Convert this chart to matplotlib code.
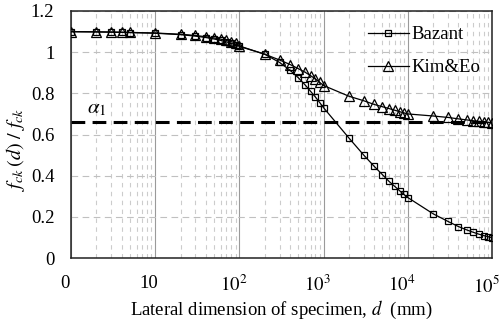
import numpy as np
import matplotlib
matplotlib.use("Agg")
import matplotlib.pyplot as plt
import matplotlib.transforms as mtransforms
from matplotlib.ticker import FixedLocator, LogLocator, NullFormatter

plt.rcParams['font.family'] = ['Liberation Serif', 'DejaVu Serif']
plt.rcParams['mathtext.fontset'] = 'stix'

# lateral dimension d (mm)
d_mm = [1, 2, 3, 4, 5,
        10, 20, 30, 40, 50, 60, 70, 80, 90,
        100, 200, 300, 400, 500, 600, 700, 800, 900,
        1000, 2000, 3000, 4000, 5000, 6000, 7000, 8000, 9000,
        10000, 20000, 30000, 40000, 50000, 60000, 70000, 80000, 90000,
        100000]

bazant = [1.099, 1.098, 1.097, 1.096, 1.095,
          1.092, 1.085, 1.078, 1.071, 1.064, 1.057, 1.050, 1.043, 1.036,
          1.028, 0.990, 0.950, 0.912, 0.876, 0.842, 0.810, 0.782, 0.755,
          0.730, 0.583, 0.500, 0.445, 0.405, 0.372, 0.348, 0.327, 0.309,
          0.294, 0.215, 0.178, 0.153, 0.137, 0.125, 0.116, 0.109, 0.104,
          0.099]

kim_eo = [1.100, 1.099, 1.098, 1.097, 1.096,
          1.093, 1.087, 1.081, 1.075, 1.069, 1.063, 1.057, 1.051, 1.045,
          1.030, 0.990, 0.962, 0.940, 0.920, 0.903, 0.886, 0.870, 0.853,
          0.838, 0.786, 0.764, 0.746, 0.735, 0.726, 0.718, 0.711, 0.705,
          0.700, 0.690, 0.683, 0.676, 0.671, 0.667, 0.664, 0.661, 0.659,
          0.657]

alpha_1 = 0.663

xtick_pos = [1, 10, 100, 1000, 10000, 100000]
xtick_labels = ['0', '10', r'$10^{2}$', r'$10^{3}$', r'$10^{4}$', r'$10^{5}$']
ytick_pos = [0, 0.2, 0.4, 0.6, 0.8, 1.0, 1.2]
ytick_labels = ['0', '0.2', '0.4', '0.6', '0.8', '1', '1.2']

fig = plt.figure(figsize=(5.0, 3.23), dpi=100)
ax = fig.add_axes([0.142, 0.201, 0.842, 0.765])

ax.set_xscale('log')
ax.set_xlim(1, 1e5)
ax.set_ylim(0, 1.2)

# grid: solid decades, dashed minor verticals, dashed horizontals
ax.xaxis.set_major_locator(FixedLocator(xtick_pos))
ax.xaxis.set_minor_locator(LogLocator(base=10, subs=np.arange(2, 10)))
ax.xaxis.set_minor_formatter(NullFormatter())
ax.grid(True, which='major', axis='x', color='#9a9a9a', lw=0.8, ls='-')
ax.grid(True, which='minor', axis='x', color='#cccccc', lw=0.8, ls=(0, (4, 4)))
ax.grid(True, which='major', axis='y', color='#c0c0c0', lw=0.8, ls=(0, (6, 4)))
ax.set_axisbelow(True)

ax.axhline(alpha_1, color='black', lw=2.2, ls=(0, (4.5, 2.4)), zorder=2)
ax.text(1.55, 0.725, r'$\alpha_{\mathit{1}}$', fontsize=15, va='center', ha='left')

ax.plot(d_mm, bazant, color='black', lw=0.9, marker='s', ms=5,
        mfc='none', mec='black', mew=0.9, label='Bazant', zorder=3)
ax.plot(d_mm, kim_eo, color='black', lw=0.9, marker='^', ms=7.5,
        mfc='none', mec='black', mew=0.9, label='Kim&Eo', zorder=3)

ax.set_xticks(xtick_pos)
ax.set_xticklabels(xtick_labels)
ax.set_yticks(ytick_pos)
ax.set_yticklabels(ytick_labels)
ax.tick_params(axis='both', which='both', length=0, labelsize=13.5)
ax.tick_params(axis='y', pad=12)
ax.tick_params(axis='x', pad=12)

shift = mtransforms.ScaledTranslation(-6 / 100, 0, fig.dpi_scale_trans)
for lbl in ax.get_xticklabels():
    lbl.set_transform(lbl.get_transform() + shift)

for sp in ax.spines.values():
    sp.set_color('#222222')
    sp.set_linewidth(1.1)

ax.set_xlabel(r'Lateral dimension of specimen, $d$  (mm)', fontsize=13.5, labelpad=2)
ax.set_ylabel(r'$f_{ck}\,(d)\ /\ f_{ck}$', fontsize=14.5)
ax.yaxis.set_label_coords(-0.105, 0.44)

ax.legend(loc='upper right', bbox_to_anchor=(1.0, 0.985), frameon=False,
          fontsize=13.5, handlelength=2.2, handletextpad=0.15,
          labelspacing=0.85, borderaxespad=0.2)

fig.savefig('out.png', dpi=100)
